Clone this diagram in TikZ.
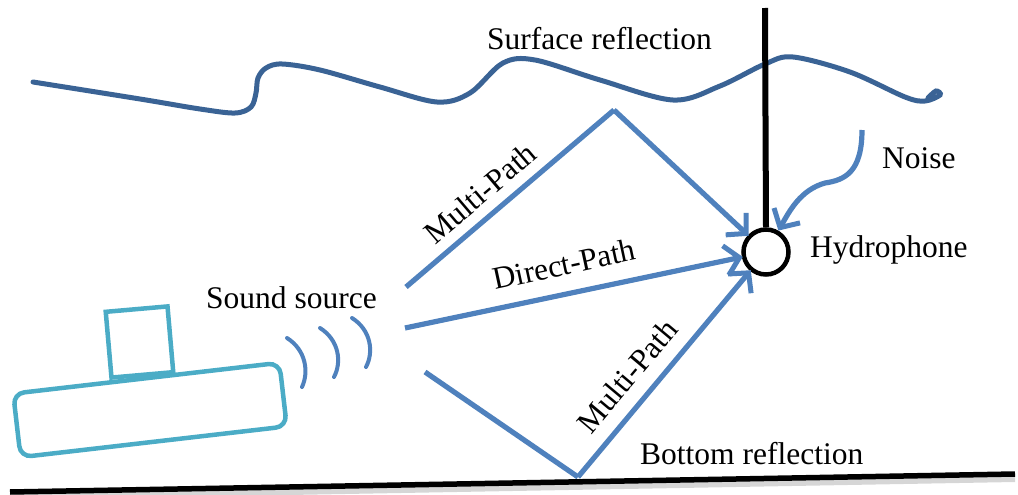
\documentclass[tikz,border=0pt]{standalone}
\usepackage{fontspec}
\setmainfont{Liberation Serif}
\usetikzlibrary{arrows.meta}

\definecolor{wavecol}{HTML}{3A6395}
\definecolor{pathcol}{HTML}{4F81BD}
\definecolor{subcol}{HTML}{4BACC6}

\tikzset{
  lbl/.style={font=\fontsize{31.5}{36}\selectfont, inner sep=0pt},
  ray/.style={draw=pathcol, line width=5.2pt},
  rayarrow/.style={ray, -{Straight Barb[length=14pt, width=30pt, line width=5pt]}},
  hull/.style={draw=subcol, line width=4.5pt, rounded corners=11pt, inner sep=0pt},
  ping/.style={draw=pathcol, line width=4pt, line cap=round},
}

\begin{document}
\begin{tikzpicture}[x=1pt, y=-1pt]
\useasboundingbox (0,0) rectangle (1018,495);

% sea floor with its soft shadow
\coordinate (floorL) at (10,492);
\coordinate (floorR) at (1015,474);
\draw[black!16, line width=7pt] ([yshift=-4.5pt]floorL) -- ([yshift=-4.5pt]floorR);
\draw[black, line width=5.5pt] (floorL) -- (floorR);

% sea surface
\draw[wavecol, line width=5pt, line cap=round] plot[smooth, tension=0.55] coordinates {
  (33,82) (140,99) (200,109) (235,113) (251,107) (256,93) (258,78)
  (266,68) (282,64) (320,70) (380,87) (437,102) (470,93) (503,63)
  (535,60) (600,80) (673,100) (720,86) (765,64) (793,57) (850,72)
  (905,97) (925,101) (940,95) (936,91) (928,98)};

% hydrophone on its cable
\node[circle, draw, line width=4.5pt, minimum size=45pt, inner sep=0pt] (hyd) at (766,252) {};
\coordinate (cabletop) at (765,8);
\draw[black, line width=6pt] (cabletop) -- (hyd.north);

% submarine
\node[hull, minimum width=268pt, minimum height=64pt, rotate=6.6] (hullbody) at (150,410) {};
\node[draw=subcol, line width=4.5pt, inner sep=0pt, minimum width=62pt, minimum height=66pt, rotate=5] (tower) at (139.5,342) {};

% emitted pulses
\coordinate (p1a) at (287,338); \coordinate (p1b) at (302,387);
\coordinate (p2a) at (320,328); \coordinate (p2b) at (334,377);
\coordinate (p3a) at (352,318); \coordinate (p3b) at (366,367);
\draw[ping] (p1a) .. controls (306,350) and (309,372) .. (p1b);
\draw[ping] (p2a) .. controls (339,340) and (342,362) .. (p2b);
\draw[ping] (p3a) .. controls (371,330) and (374,352) .. (p3b);

% propagation paths
\coordinate (up0) at (406,287);
\coordinate (surfhit) at (614,110);
\coordinate (dir0) at (405,328);
\coordinate (lo0) at (425,372);
\coordinate (bothit) at (578,477);
\draw[ray] (up0) -- (surfhit);
\draw[rayarrow, shorten >=-1pt] (surfhit) -- (hyd);
\draw[rayarrow, shorten >=-1pt] (dir0) -- (hyd);
\draw[ray] (lo0) -- (bothit);
\draw[rayarrow, shorten >=-1pt] (bothit) -- (hyd);

% noise reaching the hydrophone
\coordinate (noise0) at (862,130);
\coordinate (noisemid) at (825,183);
\draw[rayarrow] (noise0) .. controls (862,172) and (845,180) .. (noisemid)
  .. controls (800,190) and (789,212) .. (hyd.60);

% labels
\node[lbl, anchor=base west] (tsurf) at (487,50) {Surface reflection};
\node[lbl, anchor=base west] (tnoise) at (882,168) {Noise};
\node[lbl, anchor=base west] (thyd) at (810,257) {Hydrophone};
\node[lbl, anchor=base west] (tsrc) at (206,308) {Sound source};
\node[lbl, anchor=base west] (tbot) at (640,464) {Bottom reflection};
\node[lbl, rotate=40.4] (tmp1) at (480,193) {Multi-Path};
\node[lbl, rotate=12.2] (tdir) at (564,264) {Direct-Path};
\node[lbl, rotate=50] (tmp2) at (627,376) {Multi-Path};
\end{tikzpicture}
\end{document}
